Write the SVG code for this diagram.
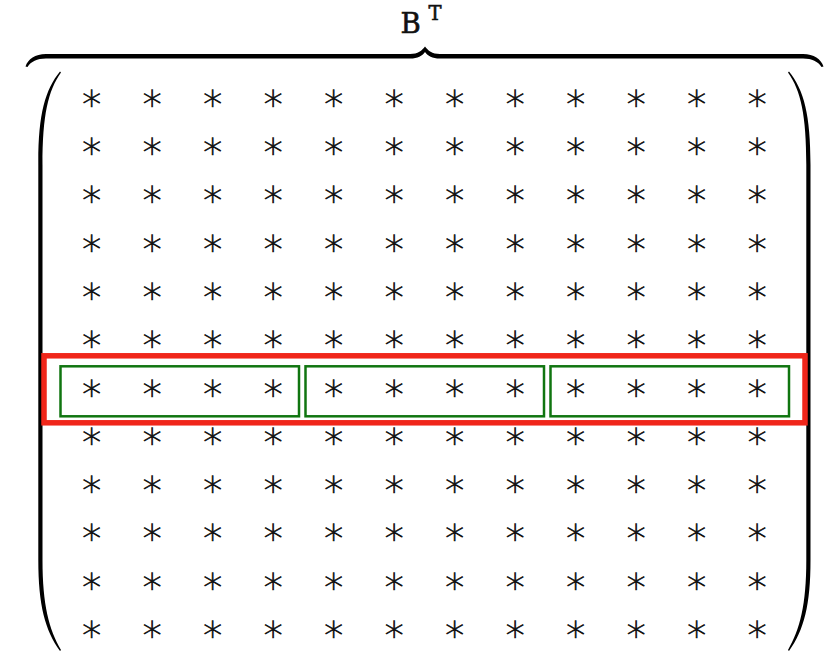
<svg xmlns="http://www.w3.org/2000/svg" width="829" height="656" viewBox="0 0 829 656">
<style>
.a{font-family:"DejaVu Sans",sans-serif;font-weight:200;font-size:38px;text-anchor:middle;fill:#111;stroke:#111;stroke-width:0.7}
.lbl{font-family:"DejaVu Serif",serif;fill:#111;stroke:#111;stroke-width:0.6}
.g{fill:none;stroke:#107510;stroke-width:2.5}
.r{fill:none;stroke:#f0261a;stroke-width:5.5}
.blk{fill:#000}
</style>
<rect width="829" height="656" fill="#fff"/>
<g id="label"><text class="lbl" x="400.5" y="33.3" style="font-size:27.6px">B</text><text class="lbl" x="428.5" y="19.8" style="font-size:19.5px">T</text></g>
<g id="brace"><path class="blk" d="M25.5,66.5 C28,59 35,54 46,54 L410,54 C418,54 422,50.5 425,46.5 C428,50.5 432,54 440,54 L803,54 C814,54 821,59 823.5,66.5 L821.5,67 C818,61.5 812,58.5 803,58.5 L440,58.5 C432,58.5 428,56 425,52 C422,56 418,58.5 410,58.5 L46,58.5 C37,58.5 31,61.5 27.5,67 Z"/></g>
<g id="paren-left"><path class="blk" d="M60,71.5 C45,90 38,115 38.3,165 L38.3,560 C38.3,605 45,630 60,651 L61,650 C49,629 42.5,605 42.5,560 L42.5,165 C42.5,115 48,91 61,72.5 Z"/></g>
<g id="paren-right"><path class="blk" d="M789,71.5 C804,90 810.5,115 810.5,165 L810.5,560 C810.5,605 804,630 789,651 L788,650 C800,629 806.3,605 806.3,560 L806.3,165 C806.3,115 801,91 788,72.5 Z"/></g>
<g id="matrix">
<g id="row1"><text class="a" y="109.7"><tspan x="92">∗</tspan><tspan x="152.5">∗</tspan><tspan x="213">∗</tspan><tspan x="273.5">∗</tspan><tspan x="334">∗</tspan><tspan x="394.5">∗</tspan><tspan x="455">∗</tspan><tspan x="515.5">∗</tspan><tspan x="576">∗</tspan><tspan x="636.5">∗</tspan><tspan x="697">∗</tspan><tspan x="757.5">∗</tspan></text></g>
<g id="row2"><text class="a" y="158"><tspan x="92">∗</tspan><tspan x="152.5">∗</tspan><tspan x="213">∗</tspan><tspan x="273.5">∗</tspan><tspan x="334">∗</tspan><tspan x="394.5">∗</tspan><tspan x="455">∗</tspan><tspan x="515.5">∗</tspan><tspan x="576">∗</tspan><tspan x="636.5">∗</tspan><tspan x="697">∗</tspan><tspan x="757.5">∗</tspan></text></g>
<g id="row3"><text class="a" y="206.3"><tspan x="92">∗</tspan><tspan x="152.5">∗</tspan><tspan x="213">∗</tspan><tspan x="273.5">∗</tspan><tspan x="334">∗</tspan><tspan x="394.5">∗</tspan><tspan x="455">∗</tspan><tspan x="515.5">∗</tspan><tspan x="576">∗</tspan><tspan x="636.5">∗</tspan><tspan x="697">∗</tspan><tspan x="757.5">∗</tspan></text></g>
<g id="row4"><text class="a" y="254.6"><tspan x="92">∗</tspan><tspan x="152.5">∗</tspan><tspan x="213">∗</tspan><tspan x="273.5">∗</tspan><tspan x="334">∗</tspan><tspan x="394.5">∗</tspan><tspan x="455">∗</tspan><tspan x="515.5">∗</tspan><tspan x="576">∗</tspan><tspan x="636.5">∗</tspan><tspan x="697">∗</tspan><tspan x="757.5">∗</tspan></text></g>
<g id="row5"><text class="a" y="302.9"><tspan x="92">∗</tspan><tspan x="152.5">∗</tspan><tspan x="213">∗</tspan><tspan x="273.5">∗</tspan><tspan x="334">∗</tspan><tspan x="394.5">∗</tspan><tspan x="455">∗</tspan><tspan x="515.5">∗</tspan><tspan x="576">∗</tspan><tspan x="636.5">∗</tspan><tspan x="697">∗</tspan><tspan x="757.5">∗</tspan></text></g>
<g id="row6"><text class="a" y="351.2"><tspan x="92">∗</tspan><tspan x="152.5">∗</tspan><tspan x="213">∗</tspan><tspan x="273.5">∗</tspan><tspan x="334">∗</tspan><tspan x="394.5">∗</tspan><tspan x="455">∗</tspan><tspan x="515.5">∗</tspan><tspan x="576">∗</tspan><tspan x="636.5">∗</tspan><tspan x="697">∗</tspan><tspan x="757.5">∗</tspan></text></g>
<g id="row7"><text class="a" y="399.5"><tspan x="92">∗</tspan><tspan x="152.5">∗</tspan><tspan x="213">∗</tspan><tspan x="273.5">∗</tspan><tspan x="334">∗</tspan><tspan x="394.5">∗</tspan><tspan x="455">∗</tspan><tspan x="515.5">∗</tspan><tspan x="576">∗</tspan><tspan x="636.5">∗</tspan><tspan x="697">∗</tspan><tspan x="757.5">∗</tspan></text></g>
<g id="row8"><text class="a" y="447.8"><tspan x="92">∗</tspan><tspan x="152.5">∗</tspan><tspan x="213">∗</tspan><tspan x="273.5">∗</tspan><tspan x="334">∗</tspan><tspan x="394.5">∗</tspan><tspan x="455">∗</tspan><tspan x="515.5">∗</tspan><tspan x="576">∗</tspan><tspan x="636.5">∗</tspan><tspan x="697">∗</tspan><tspan x="757.5">∗</tspan></text></g>
<g id="row9"><text class="a" y="496.1"><tspan x="92">∗</tspan><tspan x="152.5">∗</tspan><tspan x="213">∗</tspan><tspan x="273.5">∗</tspan><tspan x="334">∗</tspan><tspan x="394.5">∗</tspan><tspan x="455">∗</tspan><tspan x="515.5">∗</tspan><tspan x="576">∗</tspan><tspan x="636.5">∗</tspan><tspan x="697">∗</tspan><tspan x="757.5">∗</tspan></text></g>
<g id="row10"><text class="a" y="544.4"><tspan x="92">∗</tspan><tspan x="152.5">∗</tspan><tspan x="213">∗</tspan><tspan x="273.5">∗</tspan><tspan x="334">∗</tspan><tspan x="394.5">∗</tspan><tspan x="455">∗</tspan><tspan x="515.5">∗</tspan><tspan x="576">∗</tspan><tspan x="636.5">∗</tspan><tspan x="697">∗</tspan><tspan x="757.5">∗</tspan></text></g>
<g id="row11"><text class="a" y="592.7"><tspan x="92">∗</tspan><tspan x="152.5">∗</tspan><tspan x="213">∗</tspan><tspan x="273.5">∗</tspan><tspan x="334">∗</tspan><tspan x="394.5">∗</tspan><tspan x="455">∗</tspan><tspan x="515.5">∗</tspan><tspan x="576">∗</tspan><tspan x="636.5">∗</tspan><tspan x="697">∗</tspan><tspan x="757.5">∗</tspan></text></g>
<g id="row12"><text class="a" y="641"><tspan x="92">∗</tspan><tspan x="152.5">∗</tspan><tspan x="213">∗</tspan><tspan x="273.5">∗</tspan><tspan x="334">∗</tspan><tspan x="394.5">∗</tspan><tspan x="455">∗</tspan><tspan x="515.5">∗</tspan><tspan x="576">∗</tspan><tspan x="636.5">∗</tspan><tspan x="697">∗</tspan><tspan x="757.5">∗</tspan></text></g>
</g>
<g id="highlight-row"><rect class="r" x="44" y="355.8" width="761" height="67"/></g>
<g id="block1"><rect class="g" x="60.5" y="366.3" width="238.5" height="50"/></g>
<g id="block2"><rect class="g" x="305.5" y="366.3" width="238.5" height="50"/></g>
<g id="block3"><rect class="g" x="550.5" y="366.3" width="238.5" height="50"/></g>
<g id="connectors"/>
</svg>
